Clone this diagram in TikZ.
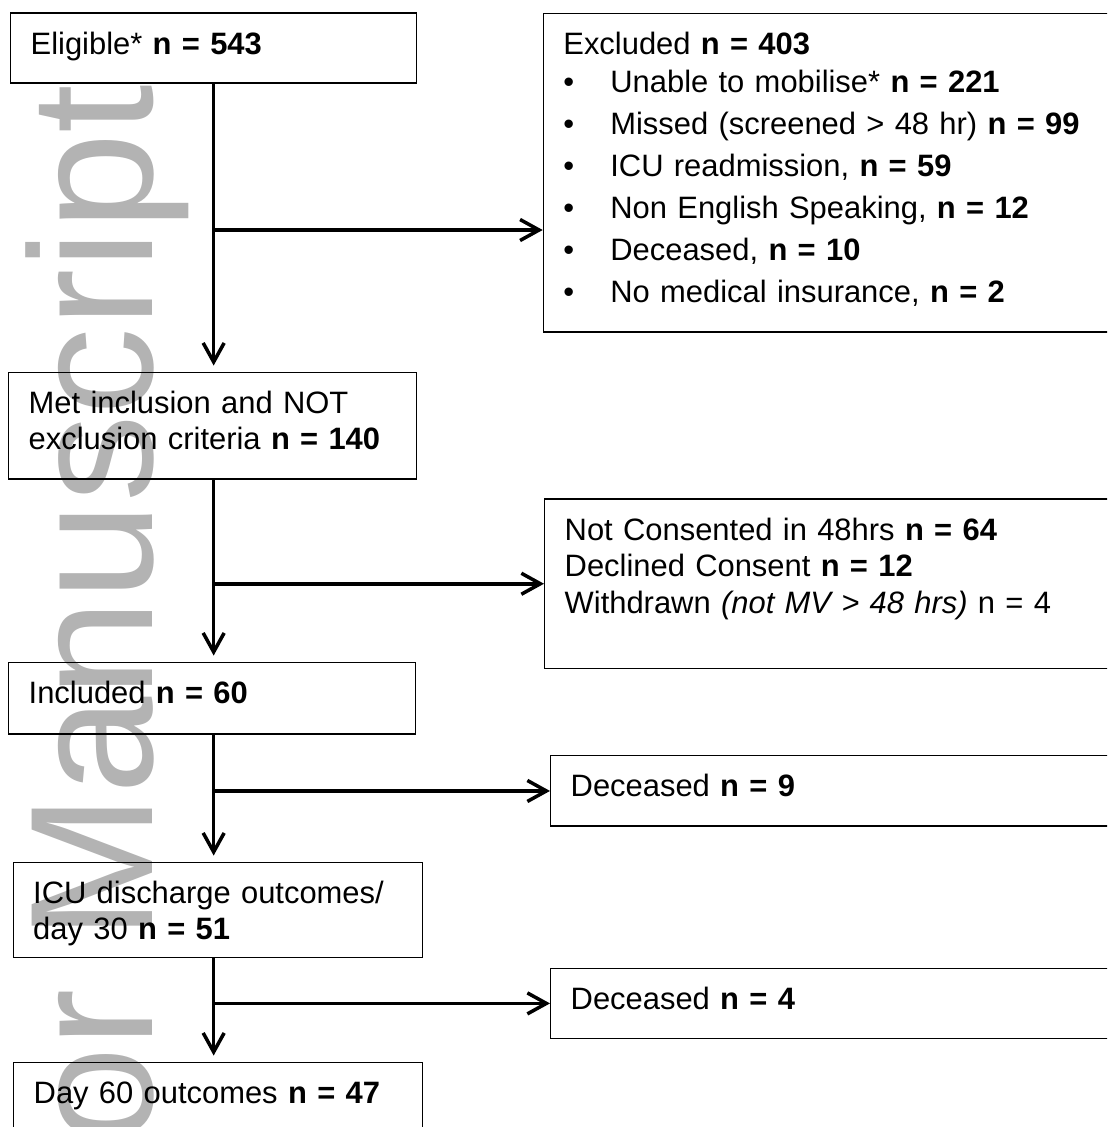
\documentclass[tikz,border=0pt]{standalone}
\usepackage{fontspec}
\setmainfont{Liberation Sans}
\usetikzlibrary{arrows.meta,calc}
\definecolor{wmgray}{RGB}{179,179,179}
\newcommand{\bul}{\makebox[0.94cm][l]{\textbullet}}

\begin{document}
\begin{tikzpicture}[x=0.02cm,y=-0.02cm,
  box/.style={draw,line width=0.8pt,anchor=north west,inner xsep=0.4cm,inner ysep=0pt,text height=0.82cm,align=left,font=\fontsize{17.6}{20.8}\selectfont},
  arr/.style={-{Straight Barb[length=3.8mm,width=4.2mm]},line width=2pt},
  darr/.style={arr,shorten >=3.5pt}]
  \useasboundingbox (0,0) rectangle (1107,1127);
  \clip (0,0) rectangle (1107,1127);
  % Watermark behind everything
  \node[wmgray,rotate=90,anchor=base east,inner sep=0pt,font=\fontsize{99.6}{99.6}\selectfont] (wm) at (152,84) {Author Manuscript};
  % Main column
  \node[box,text width=7.32cm,text depth=0.58cm] (elig) at (10,12.3) {Eligible* \textbf{n = 543}};
  \node[box,text width=7.36cm,text depth=1.31cm] (met) at (8,371.7) {Met inclusion and NOT\\exclusion criteria \textbf{n = 140}};
  \node[box,text width=7.34cm,text depth=0.61cm] (incl) at (8,661.7) {Included \textbf{n = 60}};
  \node[box,text width=7.39cm,text depth=1.08cm] (icu) at (12.5,861.7) {ICU discharge outcomes/\\day 30 \textbf{n = 51}};
  \node[box,text width=7.38cm,text depth=0.64cm] (day) at (13,1061.7) {Day 60 outcomes \textbf{n = 47}};
  % Side boxes
  \node[box,text width=11.2cm,text depth=5.55cm] (excl) at (542.7,12.7) {Excluded \textbf{n = 403}\\[0.8pt]
    \bul Unable to mobilise* \textbf{n = 221}\\[3.1pt]
    \bul Missed (screened > 48 hr) \textbf{n = 99}\\[3.1pt]
    \bul ICU readmission, \textbf{n = 59}\\[3.1pt]
    \bul Non English Speaking, \textbf{n = 12}\\[3.1pt]
    \bul Deceased, \textbf{n = 10}\\[3.1pt]
    \bul No medical insurance, \textbf{n = 2}};
  \node[box,text width=11.2cm,text depth=2.57cm] (cons) at (544,498.3) {Not Consented in 48hrs \textbf{n = 64}\\Declined Consent \textbf{n = 12}\\Withdrawn \textit{(not MV > 48 hrs)} n = 4};
  \node[box,text width=11.2cm,text depth=0.59cm] (dec9) at (550,755) {Deceased \textbf{n = 9}};
  \node[box,text width=11.2cm,text depth=0.58cm] (dec4) at (550,967.7) {Deceased \textbf{n = 4}};
  % Arrows down
  \draw[darr] (elig.south) -- (elig.south |- met.north);
  \draw[darr] (elig.south |- met.south) -- (elig.south |- incl.north);
  \draw[darr] (elig.south |- incl.south) -- (elig.south |- icu.north);
  \draw[darr] (elig.south |- icu.south) -- (elig.south |- day.north);
  % Arrows to the side
  \coordinate (b1) at (213.5,230);
  \draw[arr] (b1) -- (b1 -| excl.west);
  \draw[arr] (cons.west -| elig.south) -- (cons.west);
  \draw[arr] (dec9.west -| elig.south) -- (dec9.west);
  \draw[arr] (dec4.west -| elig.south) -- (dec4.west);
\end{tikzpicture}
\end{document}
